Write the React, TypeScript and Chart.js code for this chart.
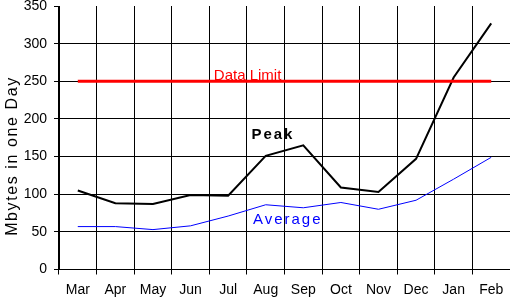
import React, { useEffect, useRef } from "react";
import { Chart, registerables } from "chart.js";

Chart.register(...registerables);

const months = ["Mar", "Apr", "May", "Jun", "Jul", "Aug", "Sep", "Oct", "Nov", "Dec", "Jan", "Feb"];
const peak = [105, 88, 87, 99, 98, 151, 165, 109, 103, 147, 255, 327];
const average = [57, 57, 53, 58, 71, 86, 82, 89, 80, 92, 120, 149];
const dataLimit = [250, 250, 250, 250, 250, 250, 250, 250, 250, 250, 250, 250];
const yTitle = "Mbytes in one Day";

const FONT = "'Liberation Sans', Arial, sans-serif";

const labelPlugin = {
  id: "annotLabels",
  afterDraw(chart: any) {
    const ctx = chart.ctx as CanvasRenderingContext2D;
    const xs = chart.scales.x;
    const ys = chart.scales.y;
    ctx.save();
    ctx.textAlign = "left";
    ctx.textBaseline = "alphabetic";

    // Data Limit
    (ctx as any).letterSpacing = "0px";
    ctx.font = `15px ${FONT}`;
    ctx.fillStyle = "#ff0000";
    ctx.fillText("Data Limit", xs.getPixelForValue(3.62), ys.getPixelForValue(250) - 1.5);

    // Peak
    (ctx as any).letterSpacing = "2px";
    ctx.font = `bold 15px ${FONT}`;
    ctx.fillStyle = "#000000";
    ctx.fillText("Peak", xs.getPixelForValue(4.62), ys.getPixelForValue(174));

    // Average
    ctx.font = `15px ${FONT}`;
    ctx.fillStyle = "#0000ff";
    ctx.fillText("Average", xs.getPixelForValue(4.66), ys.getPixelForValue(60));

    // Y title
    (ctx as any).letterSpacing = "1.6px";
    ctx.font = `16px ${FONT}`;
    ctx.fillStyle = "#000000";
    ctx.translate(17, 156);
    ctx.rotate(-Math.PI / 2);
    ctx.textAlign = "center";
    ctx.fillText(yTitle, 0, 0);
    ctx.restore();
    (ctx as any).letterSpacing = "0px";
  },
};

export default function App() {
  const ref = useRef<HTMLCanvasElement | null>(null);

  useEffect(() => {
    if (!ref.current) return;
    const chart = new Chart(ref.current, {
      type: "line",
      data: {
        labels: months,
        datasets: [
          {
            label: "Data Limit",
            data: dataLimit,
            borderColor: "#ff0000",
            borderWidth: 3,
            pointRadius: 0,
            tension: 0,
          },
          {
            label: "Peak",
            data: peak,
            borderColor: "#000000",
            borderWidth: 2,
            pointRadius: 0,
            tension: 0,
          },
          {
            label: "Average",
            data: average,
            borderColor: "#0000ff",
            borderWidth: 1,
            pointRadius: 0,
            tension: 0,
          },
        ],
      },
      options: {
        animation: false,
        responsive: false,
        devicePixelRatio: 1,
        layout: { padding: { top: 0, right: 0, left: 0, bottom: 0 } },
        plugins: {
          legend: { display: false },
          tooltip: { enabled: false },
          title: { display: false },
        },
        scales: {
          x: {
            type: "category",
            offset: true,
            grid: {
              offset: true,
              color: "#000000",
              lineWidth: 1,
              tickLength: 5,
              drawTicks: true,
            },
            border: { display: true, color: "#000000", width: 1 },
            ticks: {
              color: "#000000",
              font: { family: FONT, size: 14 },
              padding: 7,
              maxRotation: 0,
              autoSkip: false,
            },
            afterFit: (scale: any) => {
              scale.height = 30.5;
              scale.paddingRight = 0;
              scale.paddingLeft = 0;
            },
          },
          y: {
            min: 0,
            max: 350,
            grid: {
              color: (c: any) => (c.tick && c.tick.value === 350 ? "rgba(0,0,0,0)" : "#000000"),
              tickColor: "#000000",
              lineWidth: 1,
              tickLength: 5,
            },
            border: { display: true, color: "#000000", width: 1 },
            ticks: {
              stepSize: 50,
              color: "#000000",
              font: { family: FONT, size: 14 },
              padding: 7,
            },
            afterFit: (scale: any) => {
              scale.width = 59;
              scale.paddingTop = 6;
              scale.paddingBottom = 0;
            },
          },
        },
      },
      plugins: [labelPlugin],
    });
    return () => chart.destroy();
  }, []);

  return (
    <div style={{ position: "fixed", left: 0, top: 0, width: 510, height: 300, background: "#ffffff" }}>
      <canvas ref={ref} width={510} height={300} style={{ display: "block" }} />
    </div>
  );
}
